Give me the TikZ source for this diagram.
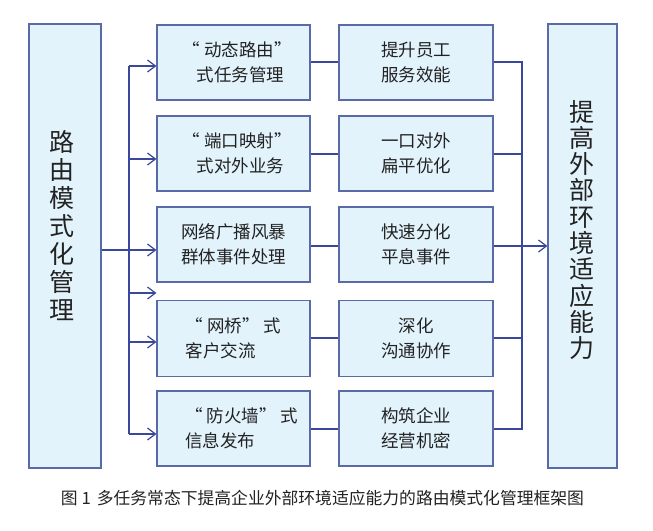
\documentclass[tikz,border=0pt]{standalone}
\usepackage{fontspec}
\setmainfont{Noto Sans CJK SC}
\usetikzlibrary{arrows.meta}
\definecolor{fillc}{HTML}{E2F3FC}
\definecolor{bordc}{HTML}{5A6AA6}
\definecolor{linec}{HTML}{3A489C}
\definecolor{txtc}{HTML}{222222}
\newcommand{\myrq}{”\kern-0.45em}
\tikzset{
  box/.style={draw=bordc, fill=fillc, line width=1.1pt, inner sep=0pt,
    minimum width=153pt, minimum height=75pt, text=txtc,
    font=\fontsize{17.5}{25}\selectfont},
  bigbox/.style={draw=bordc, fill=fillc, line width=1.1pt, inner sep=0pt,
    minimum height=444pt},
  bigtxt/.style={text=txtc, align=center, inner sep=0pt},
  conn/.style={draw=linec, line width=1.2pt},
  arr/.style={conn, -{Straight Barb[length=8pt,width=12pt,line width=1.2pt]}}
}
\begin{document}
\begin{tikzpicture}[x=1pt,y=-1pt]
\useasboundingbox (0,0) rectangle (653,530);
% big boxes
\node[bigbox, minimum width=72pt] (L) at (65,246) {};
\node[bigtxt, font=\fontsize{25}{28}\selectfont] (Lt) at (62,226) {路\\由\\模\\式\\化\\管\\理};
\node[bigbox, minimum width=69pt] (R) at (582.5,246) {};
\node[bigtxt, font=\fontsize{25}{26.3}\selectfont] (Rt) at (581.5,230) {提\\高\\外\\部\\环\\境\\适\\应\\能\\力};
% middle-left boxes
\node[box, align=right] (a1) at (233.5,62.5) {“ 动态路由\myrq\\式任务管理};
\node[box, align=right] (a2) at (233.5,153.5) {“ 端口映射\myrq\\式对外业务};
\node[box, align=center] (a3) at (233.5,244.5) {网络广播风暴\\群体事件处理};
\node[box, align=left, minimum height=76pt] (a4) at (233.5,338.5) {“ 网桥” 式\\客户交流};
\node[box, align=left] (a5) at (233.5,428.5) {\hspace*{16pt}“ 防火墙” 式\\\hspace*{16pt}信息发布};
% middle-right boxes
\node[box, minimum width=154pt, align=center] (b1) at (416,62.5) {提升员工\\服务效能};
\node[box, minimum width=154pt, align=center] (b2) at (416,153.5) {一口对外\\扁平优化};
\node[box, minimum width=154pt, align=center] (b3) at (416,244.5) {快速分化\\平息事件};
\node[box, minimum width=154pt, minimum height=76pt, align=center] (b4) at (416,338.5) {深化\\沟通协作};
\node[box, minimum width=154pt, align=center] (b5) at (416,428.5) {构筑企业\\经营机密};
% left trunk
\coordinate (t1) at (129,66);
\coordinate (t2) at (129,159);
\coordinate (t3) at (129,250);
\coordinate (tx) at (129,293);
\coordinate (t4) at (129,342);
\coordinate (t5) at (129,434);
\draw[conn] (t1) -- (t5);
\draw[conn] (L.east |- t3) -- (t3);
\draw[arr] (t1) -- (t1 -| a1.west);
\draw[arr] (t2) -- (t2 -| a2.west);
\draw[arr] (t3) -- (t3 -| a3.west);
\draw[arr] (tx) -- (tx -| a4.west);
\draw[arr] (t4) -- (t4 -| a4.west);
\draw[arr] (t5) -- (t5 -| a5.west);
% middle links
\coordinate (m1) at (0,62);
\coordinate (m2) at (0,154);
\coordinate (m3) at (0,246);
\coordinate (m4) at (0,338);
\coordinate (m5) at (0,429);
\draw[conn] (a1.east |- m1) -- (b1.west |- m1);
\draw[conn] (a2.east |- m2) -- (b2.west |- m2);
\draw[conn] (a3.east |- m3) -- (b3.west |- m3);
\draw[conn] (a4.east |- m4) -- (b4.west |- m4);
\draw[conn] (a5.east |- m5) -- (b5.west |- m5);
% right trunk
\coordinate (r1) at (522,62);
\coordinate (r2) at (522,154);
\coordinate (r4) at (522,338);
\coordinate (r5) at (522,429);
\draw[conn] (b1.east |- r1) -- (r1) -- (r5) -- (b5.east |- r5);
\draw[conn] (b2.east |- r2) -- (r2);
\draw[conn] (b4.east |- r4) -- (r4);
\draw[arr] (b3.east |- m3) -- (R.west |- m3);
% caption
\node[text=txtc, font=\fontsize{16.8}{16.8}\selectfont, inner sep=0pt] (cap) at (322.5,498) {图 1\hspace{6pt}多任务常态下提高企业外部环境适应能力的路由模式化管理框架图};
\end{tikzpicture}
\end{document}
